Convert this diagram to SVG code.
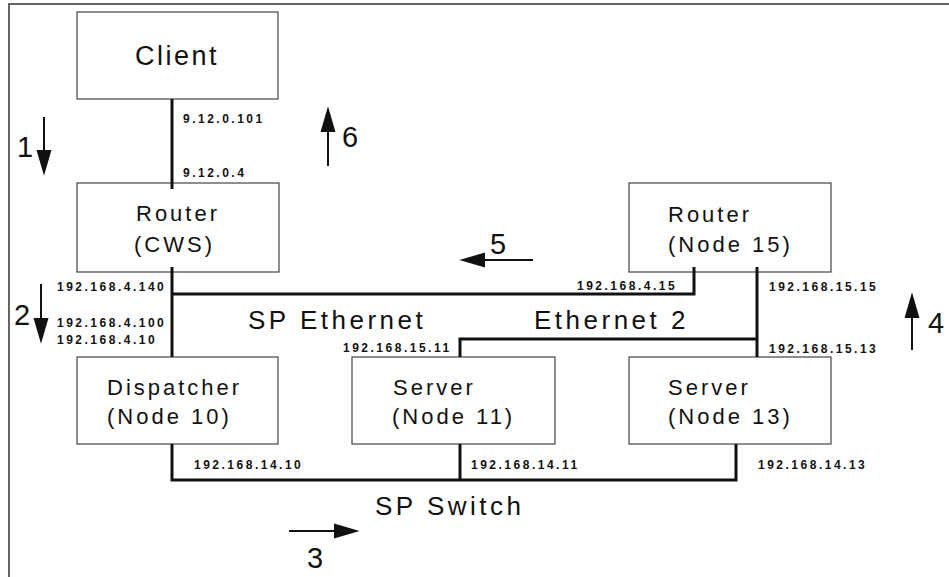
<svg xmlns="http://www.w3.org/2000/svg" width="949" height="577" viewBox="0 0 949 577">
<style>
.box{fill:#fff;stroke:#444;stroke-width:1.2}
.lbl{font-family:"Liberation Sans",Arial,sans-serif;font-size:22px;letter-spacing:3px;fill:#111}
.big{font-family:"Liberation Sans",Arial,sans-serif;font-size:26px;letter-spacing:3.5px;fill:#111}
.ip{font-family:"Liberation Sans",Arial,sans-serif;font-size:12px;font-weight:bold;letter-spacing:2.5px;fill:#111}
.num{font-family:"Liberation Sans",Arial,sans-serif;font-size:29px;fill:#111}
.net{fill:none;stroke:#111;stroke-width:3}
.arr{fill:none;stroke:#111;stroke-width:2;marker-end:url(#ah)}
</style>
<defs>
<marker id="ah" markerUnits="userSpaceOnUse" markerWidth="26" markerHeight="16" viewBox="0 0 24 14" refX="16" refY="7" orient="auto">
<path d="M0,0 L24,7 L0,14 z" fill="#111"/>
</marker>
</defs>
<rect width="949" height="577" fill="#fff"/>
<path d="M9,577 L9,4 L949,4" fill="none" stroke="#333" stroke-width="1.5"/>

<g id="client"><rect class="box" x="77" y="12" width="201" height="87"/><text class="lbl" x="135" y="65" style="font-size:27px;letter-spacing:2.5px">Client</text></g>
<g id="router-cws"><rect class="box" x="77" y="183" width="202" height="89"/><text class="lbl" x="136" y="221">Router</text><text class="lbl" x="134" y="252">(CWS)</text></g>
<g id="router-node15"><rect class="box" x="629" y="183" width="202" height="89"/><text class="lbl" x="668" y="222">Router</text><text class="lbl" x="668" y="252">(Node 15)</text></g>
<g id="dispatcher"><rect class="box" x="77" y="357" width="201" height="87"/><text class="lbl" x="107" y="395">Dispatcher</text><text class="lbl" x="107" y="424">(Node 10)</text></g>
<g id="server11"><rect class="box" x="352" y="357" width="203" height="87"/><text class="lbl" x="393" y="395">Server</text><text class="lbl" x="392" y="424">(Node 11)</text></g>
<g id="server13"><rect class="box" x="629" y="357" width="202" height="87"/><text class="lbl" x="668" y="395">Server</text><text class="lbl" x="668" y="424">(Node 13)</text></g>

<g id="connectors">
<path class="net" d="M172,99 L172,189"/>
<path class="net" d="M172,267 L172,357"/>
<path class="net" d="M172,294 L694,294 L694,267"/>
<path class="net" d="M757,267 L757,357"/>
<path class="net" d="M460,357 L460,339 L757,339"/>
<path class="net" d="M172,444 L172,480 L736,480 L736,444"/>
<path class="net" d="M460,444 L460,480"/>
<line class="arr" x1="44" y1="117" x2="44" y2="167"/>
<line class="arr" x1="41" y1="284" x2="41" y2="335"/>
<line class="arr" x1="289" y1="531" x2="351" y2="531"/>
<line class="arr" x1="912" y1="350" x2="912" y2="301"/>
<line class="arr" x1="533" y1="260" x2="468" y2="260"/>
<line class="arr" x1="328" y1="166" x2="328" y2="115"/>
</g>

<g id="labels">
<text class="ip" x="183" y="123">9.12.0.101</text>
<text class="ip" x="183" y="177">9.12.0.4</text>
<text class="ip" x="57" y="291">192.168.4.140</text>
<text class="ip" x="57" y="327">192.168.4.100</text>
<text class="ip" x="57" y="344">192.168.4.10</text>
<text class="ip" x="343" y="352">192.168.15.11</text>
<text class="ip" x="577" y="290">192.168.4.15</text>
<text class="ip" x="769" y="291">192.168.15.15</text>
<text class="ip" x="769" y="353">192.168.15.13</text>
<text class="ip" x="194" y="469">192.168.14.10</text>
<text class="ip" x="471" y="469">192.168.14.11</text>
<text class="ip" x="758" y="469">192.168.14.13</text>
<text class="big" x="248" y="329">SP Ethernet</text>
<text class="big" x="534" y="329">Ethernet 2</text>
<text class="big" x="375" y="515">SP Switch</text>
<text class="num" x="17" y="157">1</text>
<text class="num" x="14" y="325">2</text>
<text class="num" x="307" y="568">3</text>
<text class="num" x="928" y="333">4</text>
<text class="num" x="490" y="254">5</text>
<text class="num" x="342" y="147">6</text>
</g>
</svg>
